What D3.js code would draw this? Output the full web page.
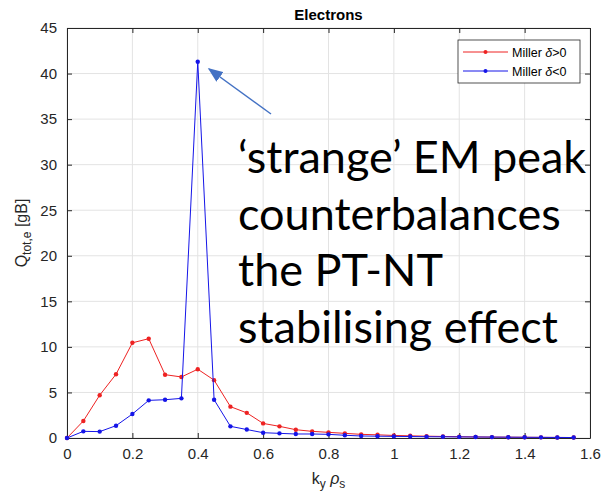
<!DOCTYPE html>
<html><head><meta charset="utf-8">
<script src="https://cdn.jsdelivr.net/npm/d3@7"></script>
<style>body{margin:0;background:#fff}</style>
</head><body>
<script>
const ky = [0,0.05,0.1,0.15,0.2,0.25,0.3,0.35,0.4,0.45,0.5,0.55,0.6,0.65,0.7,0.75,0.8,0.85,0.9,0.95,1.0,1.05,1.1,1.15,1.2,1.25,1.3,1.35,1.4,1.45,1.5,1.55];
const qPos = [0,1.87,4.7,7.0,10.45,10.9,6.95,6.7,7.55,6.35,3.44,2.76,1.6,1.28,0.91,0.73,0.62,0.51,0.4,0.35,0.28,0.24,0.2,0.17,0.14,0.12,0.1,0.09,0.08,0.07,0.06,0.05];
const qNeg = [0,0.73,0.7,1.35,2.63,4.13,4.2,4.35,41.3,4.2,1.28,0.93,0.58,0.51,0.44,0.44,0.4,0.3,0.22,0.2,0.18,0.16,0.14,0.13,0.12,0.11,0.1,0.09,0.08,0.07,0.06,0.05];
const xTicks = [0,0.2,0.4,0.6,0.8,1,1.2,1.4,1.6];
const yTicks = [0,5,10,15,20,25,30,35,40,45];
const seriesNames = ["Miller \u03b4>0","Miller \u03b4<0"];
const annotationLines = ["\u2018strange\u2019 EM peak","counterbalances","the PT-NT","stabilising effect"];

const W=607,H=499;
const m={l:67,r:17,t:28,b:61};
const svg=d3.select("body").append("svg").attr("width",W).attr("height",H);
const x=d3.scaleLinear().domain([0,1.6]).range([m.l,W-m.r]);
const y=d3.scaleLinear().domain([0,45]).range([H-m.b,m.t]);
const axC="#262626", font="Liberation Sans, Arial, sans-serif";

// grid
const g=svg.append("g");
g.selectAll(".gx").data(xTicks).join("line").attr("x1",d=>x(d)).attr("x2",d=>x(d)).attr("y1",y(0)).attr("y2",y(45)).attr("stroke","#e3e3e3").attr("stroke-width",1);
g.selectAll(".gy").data(yTicks).join("line").attr("y1",d=>y(d)).attr("y2",d=>y(d)).attr("x1",x(0)).attr("x2",x(1.6)).attr("stroke","#e3e3e3").attr("stroke-width",1);

// axes
const ax=d3.axisBottom(x).tickValues(xTicks).tickFormat(d3.format("~g")).tickSizeInner(-5).tickSizeOuter(0).tickPadding(10);
const ay=d3.axisLeft(y).tickValues(yTicks).tickSizeInner(-5).tickSizeOuter(0).tickPadding(10);
const axT=d3.axisTop(x).tickValues(xTicks).tickFormat("").tickSizeInner(-5).tickSizeOuter(0);
const ayR=d3.axisRight(y).tickValues(yTicks).tickFormat("").tickSizeInner(-5).tickSizeOuter(0);
function style(sel){sel.selectAll("path").attr("stroke",axC);sel.selectAll("line").attr("stroke",axC);sel.selectAll("text").attr("fill",axC).style("font-family",font).style("font-size","15px");}
svg.append("g").attr("transform",`translate(0,${y(0)})`).call(ax).call(style);
svg.append("g").attr("transform",`translate(${x(0)},0)`).call(ay).call(style);
svg.append("g").attr("transform",`translate(0,${y(45)})`).call(axT).call(style);
svg.append("g").attr("transform",`translate(${x(1.6)},0)`).call(ayR).call(style);

// lines
const colors=["#ee2222","#1515e8"];
[qPos,qNeg].forEach((arr,i)=>{
  const pts=ky.map((k,j)=>[k,arr[j]]);
  svg.append("path").datum(pts).attr("fill","none").attr("stroke",colors[i]).attr("stroke-width",1)
    .attr("d",d3.line().x(d=>x(d[0])).y(d=>y(d[1])));
  svg.append("g").selectAll("circle").data(pts).join("circle").attr("cx",d=>x(d[0])).attr("cy",d=>y(d[1])).attr("r",2.2).attr("fill",colors[i]);
});

// title
svg.append("text").attr("x",(x(0)+x(1.6))/2).attr("y",20).attr("text-anchor","middle").style("font-family",font).style("font-size","15px").style("font-weight","bold").attr("fill","#000").text("Electrons");

// x label
const xl=svg.append("text").attr("x",(x(0)+x(1.6))/2).attr("y",484).attr("text-anchor","middle").style("font-family",font).style("font-size","16px").attr("fill",axC);
xl.append("tspan").text("k");
xl.append("tspan").attr("dy",4).style("font-size","12px").text("y");
xl.append("tspan").attr("dy",-4).style("font-style","italic").text(" \u03c1");
xl.append("tspan").attr("dy",4).style("font-size","12px").text("s");

// y label
const yl=svg.append("text").attr("transform",`translate(27,${(y(0)+y(45))/2}) rotate(-90)`).attr("text-anchor","middle").style("font-family",font).style("font-size","16px").attr("fill",axC);
yl.append("tspan").text("Q");
yl.append("tspan").attr("dy",4).style("font-size","12px").text("tot,e");
yl.append("tspan").attr("dy",-4).text(" [gB]");

// legend
const lg=svg.append("g").attr("transform","translate(458,40)");
lg.append("rect").attr("width",122).attr("height",43).attr("fill","#fff").attr("stroke",axC).attr("stroke-width",0.8);
seriesNames.forEach((n,i)=>{
  const yy=12+i*19;
  lg.append("line").attr("x1",5).attr("x2",50).attr("y1",yy).attr("y2",yy).attr("stroke",colors[i]);
  lg.append("circle").attr("cx",27.5).attr("cy",yy).attr("r",2).attr("fill",colors[i]);
  const t=lg.append("text").attr("x",54).attr("y",yy+4.5).style("font-family",font).style("font-size","12.5px").attr("fill","#000");
  t.append("tspan").text("Miller ");
  t.append("tspan").style("font-style","italic").text("\u03b4");
  t.append("tspan").text(n.slice(8));
});

// arrow
svg.append("defs").append("marker").attr("id","ah").attr("viewBox","0 0 10 10").attr("refX",9).attr("refY",5).attr("markerWidth",10).attr("markerHeight",8).attr("orient","auto").attr("preserveAspectRatio","none")
  .append("path").attr("d","M0,0 L10,5 L0,10 z").attr("fill","#4472c4");
svg.append("line").attr("x1",271).attr("y1",114).attr("x2",209).attr("y2",69).attr("stroke","#4472c4").attr("stroke-width",1.5).attr("marker-end","url(#ah)");

// annotation
annotationLines.forEach((s,i)=>{
  svg.append("text").attr("x",238).attr("y",173+i*56.5).style("font-family","Lato, 'Open Sans', sans-serif").style("font-size","45px").attr("fill","#000").text(s);
});
</script>
</body></html>
